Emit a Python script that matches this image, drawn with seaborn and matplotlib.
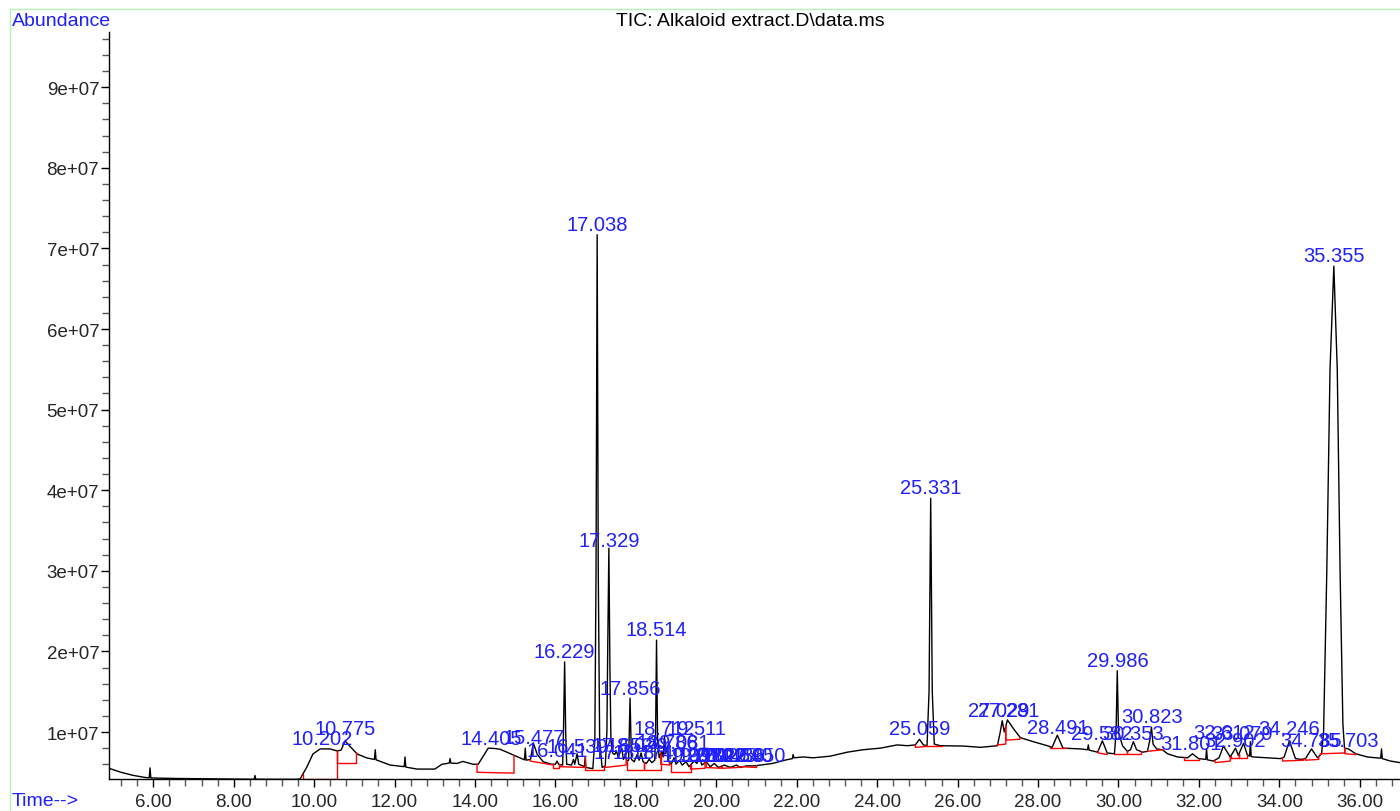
import numpy as np
import pandas as pd
import matplotlib
matplotlib.use("Agg")
import matplotlib.pyplot as plt
import seaborn as sns
from matplotlib.ticker import MultipleLocator, FuncFormatter
from matplotlib.lines import Line2D

# TIC trace, (time [min], abundance [1e6])
trace_early = [
    (4.90, 5.50), (5.20, 5.00), (5.50, 4.62), (5.80, 4.36), (5.90, 4.32), (5.92, 5.55), (5.94, 4.30),
    (6.50, 4.24), (7.00, 4.21), (7.50, 4.19), (8.00, 4.16), (8.51, 4.14), (8.53, 4.60), (8.55, 4.14),
    (9.00, 4.13), (9.50, 4.13), (9.65, 4.16), (9.82, 5.66), (9.97, 7.27), (10.15, 7.90), (10.40, 7.90),
    (10.57, 7.65), (10.67, 7.75), (10.77, 8.90), (10.84, 8.50), (11.07, 7.27), (11.32, 6.77),
    (11.50, 6.60), (11.52, 7.80), (11.54, 6.55), (11.89, 5.90), (12.24, 5.70), (12.26, 6.90), (12.28, 5.65),
    (12.56, 5.40), (13.00, 5.40), (13.18, 6.00), (13.36, 6.15), (13.38, 6.70), (13.40, 6.15), (13.55, 6.10),
    (13.70, 6.35), (13.95, 6.00), (14.08, 6.00), (14.33, 8.00), (14.50, 7.95), (14.63, 7.85), (14.95, 7.15),
    (15.20, 6.60), (15.23, 6.55), (15.25, 8.00), (15.27, 6.50), (15.38, 6.60), (15.45, 8.65), (15.55, 7.20),
    (15.70, 6.30), (15.90, 6.00),
]
trace_mid = [
    (16.00, 6.00), (16.04, 6.40), (16.08, 6.00), (16.18, 5.90), (16.20, 10.0), (16.229, 18.70), (16.255, 10.0),
    (16.28, 6.00), (16.40, 5.90), (16.45, 6.60), (16.48, 6.00), (16.539, 7.30), (16.58, 6.00), (16.72, 5.70),
    (16.74, 6.90), (16.76, 5.60), (16.93, 5.45), (16.98, 9.00), (17.01, 30.0), (17.038, 71.70), (17.065, 30.0),
    (17.10, 9.00), (17.16, 5.60), (17.24, 5.80), (17.28, 10.0), (17.30, 20.0), (17.329, 32.80), (17.355, 18.0),
    (17.38, 9.00), (17.42, 7.40), (17.47, 7.20), (17.52, 7.60), (17.56, 6.90), (17.652, 8.00), (17.69, 6.60),
    (17.735, 7.00), (17.78, 6.40), (17.82, 6.50), (17.856, 14.20), (17.89, 6.60), (17.96, 6.30), (18.03, 7.20),
    (18.08, 6.50), (18.13, 7.40), (18.18, 6.30), (18.26, 6.10), (18.33, 6.60), (18.40, 6.20), (18.47, 6.50),
    (18.49, 9.50), (18.514, 21.40), (18.54, 9.00), (18.58, 6.80), (18.64, 7.60), (18.68, 6.90), (18.712, 9.50),
    (18.74, 7.30), (18.786, 8.10), (18.82, 6.30), (18.88, 6.00), (18.95, 6.80), (19.00, 6.00), (19.08, 6.50),
    (19.15, 5.90), (19.25, 6.30), (19.32, 5.70), (19.45, 6.40), (19.52, 6.10), (19.58, 6.90), (19.64, 5.90),
    (19.75, 6.30), (19.85, 5.70), (19.95, 6.10), (20.05, 5.60), (20.20, 5.90), (20.35, 5.60), (20.50, 5.90),
    (20.60, 5.60), (20.75, 5.80), (20.95, 5.80), (21.10, 5.90), (21.40, 6.10), (21.70, 6.50), (21.89, 6.70),
    (21.91, 7.20), (21.93, 6.80),
]
trace_late = [
    (22.16, 6.90), (22.41, 6.80), (22.83, 7.00), (23.26, 7.50), (23.65, 7.80), (24.08, 8.00), (24.50, 8.40),
    (24.75, 8.30), (24.95, 8.40), (25.05, 9.10), (25.15, 8.40), (25.24, 8.30), (25.29, 15.0), (25.331, 39.0),
    (25.37, 15.0), (25.42, 8.50), (25.57, 8.30), (26.14, 8.26), (26.57, 8.10), (26.99, 8.30), (27.06, 10.0),
    (27.11, 11.40), (27.16, 10.0), (27.24, 11.50), (27.39, 10.40), (27.56, 9.30), (27.88, 8.80), (28.23, 8.30),
    (28.35, 8.10), (28.48, 9.60), (28.62, 8.00), (29.06, 7.90), (29.23, 7.80), (29.25, 8.40), (29.27, 7.75),
    (29.48, 7.50), (29.60, 8.90), (29.72, 7.40), (29.90, 7.30), (29.94, 10.0), (29.97, 17.60), (30.00, 10.0),
    (30.03, 9.50), (30.10, 8.30), (30.22, 7.60), (30.30, 7.80), (30.37, 8.80), (30.45, 7.80), (30.60, 7.50),
    (30.72, 7.60), (30.78, 9.00), (30.82, 10.60), (30.86, 8.50), (30.95, 7.90), (31.09, 7.80), (31.22, 7.30),
    (31.47, 6.90), (31.72, 6.80), (31.84, 7.30), (31.99, 6.70), (32.17, 6.60), (32.19, 7.90), (32.21, 6.55),
    (32.36, 6.40), (32.50, 6.80), (32.61, 8.26), (32.78, 6.90), (32.91, 8.00), (32.98, 7.10), (33.11, 8.60),
    (33.20, 7.20), (33.26, 7.00), (33.28, 8.80), (33.30, 6.95), (33.36, 6.90), (33.71, 6.80), (34.03, 6.70),
    (34.12, 6.90), (34.25, 8.90), (34.40, 6.70), (34.55, 6.60), (34.65, 6.70), (34.80, 7.90), (34.95, 6.80),
    (35.05, 7.30), (35.10, 10.0), (35.18, 30.0), (35.26, 55.0), (35.355, 67.8), (35.44, 55.0), (35.51, 30.0),
    (35.58, 11.0), (35.62, 8.00), (35.72, 7.90), (35.90, 7.30), (36.19, 6.90), (36.52, 6.75),
    (36.54, 7.90), (36.56, 6.70), (36.76, 6.40), (37.00, 6.20),
]

# integration baselines (start, end, base at start, base at end) [min, 1e6]
baselines = [
    (9.72, 10.57, 4.22, 4.22), (10.57, 11.03, 6.15, 6.15), (14.05, 14.97, 5.00, 4.90),
    (15.37, 15.95, 6.40, 5.90), (15.95, 16.10, 5.50, 5.50), (16.12, 16.72, 5.70, 5.60),
    (16.74, 17.22, 5.25, 5.25), (17.24, 17.76, 5.60, 5.90), (17.78, 18.20, 5.25, 5.25),
    (18.20, 18.62, 5.30, 5.30), (18.62, 18.84, 6.00, 5.90), (18.88, 19.36, 5.00, 5.00),
    (19.36, 19.72, 5.40, 5.50), (19.75, 20.12, 5.60, 5.50), (20.15, 20.55, 5.50, 5.60),
    (20.60, 21.00, 5.70, 5.60), (24.95, 25.22, 8.10, 8.20), (25.22, 25.62, 8.30, 8.30),
    (26.98, 27.20, 8.40, 8.50), (27.20, 27.55, 9.00, 9.10), (28.30, 28.70, 8.00, 8.00),
    (29.50, 29.72, 7.40, 7.20), (29.88, 30.22, 7.30, 7.30), (30.22, 30.55, 7.30, 7.30),
    (30.72, 31.10, 7.60, 7.80), (31.62, 32.00, 6.50, 6.50), (32.40, 32.78, 6.20, 6.40),
    (32.80, 33.00, 6.80, 6.80), (33.00, 33.20, 6.80, 6.80), (34.08, 34.60, 6.40, 6.50),
    (34.65, 34.98, 6.50, 6.60), (35.02, 35.63, 7.30, 7.40), (35.63, 35.90, 7.30, 7.20),
]

# peak labels (retention time text, label baseline [1e6])
peak_labels = [
    ("10.202", 8.5), ("10.775", 9.75), ("14.405", 8.5), ("15.477", 8.6), ("16.041", 7.0),
    ("16.229", 19.3), ("16.539", 7.5), ("17.038", 72.3), ("17.329", 33.1), ("17.652", 7.6),
    ("17.718", 6.8), ("18.029", 7.6), ("18.174", 6.8), ("17.856", 14.7), ("18.514", 22.0),
    ("18.712", 9.75), ("19.511", 9.75), ("18.786", 8.0), ("19.081", 8.0),
    ("19.398", 6.4), ("19.614", 6.4), ("19.802", 6.4), ("20.012", 6.4), ("20.225", 6.4),
    ("20.436", 6.4), ("20.640", 6.4), ("20.950", 6.4),
    ("25.059", 9.75), ("25.331", 39.65), ("27.029", 12.0), ("27.281", 12.0), ("28.491", 9.9),
    ("29.582", 9.1), ("29.986", 18.2), ("30.353", 9.1), ("30.823", 11.2), ("31.801", 7.9),
    ("32.612", 9.26), ("32.902", 8.26), ("33.079", 9.13), ("34.246", 9.75), ("34.785", 8.26),
    ("35.355", 68.4), ("35.703", 8.26),
]

BLUE = '#1f1fff'
W, H = 1400, 812

sns.set_style("ticks")
plt.rcParams['font.family'] = ['Liberation Sans', 'DejaVu Sans']

trace = pd.DataFrame(trace_early + trace_mid + trace_late, columns=['time', 'abundance'])
trace['abundance'] = trace['abundance'] * 1e6

fig = plt.figure(figsize=(W / 100, H / 100), dpi=100)
ax = fig.add_axes([109 / W, (H - 780) / H, 1 - 109 / W, (780 - 33) / H])

sns.lineplot(data=trace, x='time', y='abundance', ax=ax, color='black', lw=1,
             estimator=None, sort=False)

for ts, te, bs, be in baselines:
    top_s = np.interp(ts, trace['time'], trace['abundance'])
    top_e = np.interp(te, trace['time'], trace['abundance'])
    ax.plot([ts, ts, te, te], [top_s, bs * 1e6, be * 1e6, top_e], color='red', lw=1)

for txt, a in peak_labels:
    ax.text(float(txt), a * 1e6, txt, ha='center', va='baseline', color=BLUE, fontsize=14.5)

ax.set_xlim(4.9, 37.0)
ax.set_ylim(4.17e6, 9.685e7)
ax.set_xlabel('')
ax.set_ylabel('')

ax.xaxis.set_major_locator(MultipleLocator(2))
ax.xaxis.set_minor_locator(MultipleLocator(0.4))
ax.xaxis.set_major_formatter(FuncFormatter(lambda v, p: f"{v:.2f}"))
ax.yaxis.set_major_locator(MultipleLocator(1e7))
ax.yaxis.set_minor_locator(MultipleLocator(2e6))
ax.yaxis.set_major_formatter(FuncFormatter(lambda v, p: f"{v:.0e}"))

ax.tick_params(axis='both', which='major', direction='out', length=6, width=1, labelsize=13.5, color='black')
ax.tick_params(axis='both', which='minor', direction='out', length=5, width=1, color='#555555')
ax.tick_params(axis='y', which='major', pad=1)
ax.tick_params(axis='x', which='major', pad=4)
sns.despine(ax=ax)
for s in ['left', 'bottom']:
    ax.spines[s].set_linewidth(1)
    ax.spines[s].set_color('black')

fig.text(12 / W, 1 - 22 / H, 'Abundance', color=BLUE, fontsize=14, va='center', ha='left')
fig.text(750 / W, 1 - 22 / H, r'TIC: Alkaloid extract.D\data.ms', color='black', fontsize=14,
         va='center', ha='center')
fig.text(12 / W, 1 - 802 / H, 'Time-->', color=BLUE, fontsize=14, va='center', ha='left')

# light green page frame
fig.add_artist(Line2D([10 / W, 10 / W], [0, 1 - 10 / H], color='#b8f0b8', lw=1, transform=fig.transFigure))
fig.add_artist(Line2D([10 / W, 1], [1 - 10 / H, 1 - 10 / H], color='#b8f0b8', lw=1, transform=fig.transFigure))

fig.savefig('out.png', dpi=100)
